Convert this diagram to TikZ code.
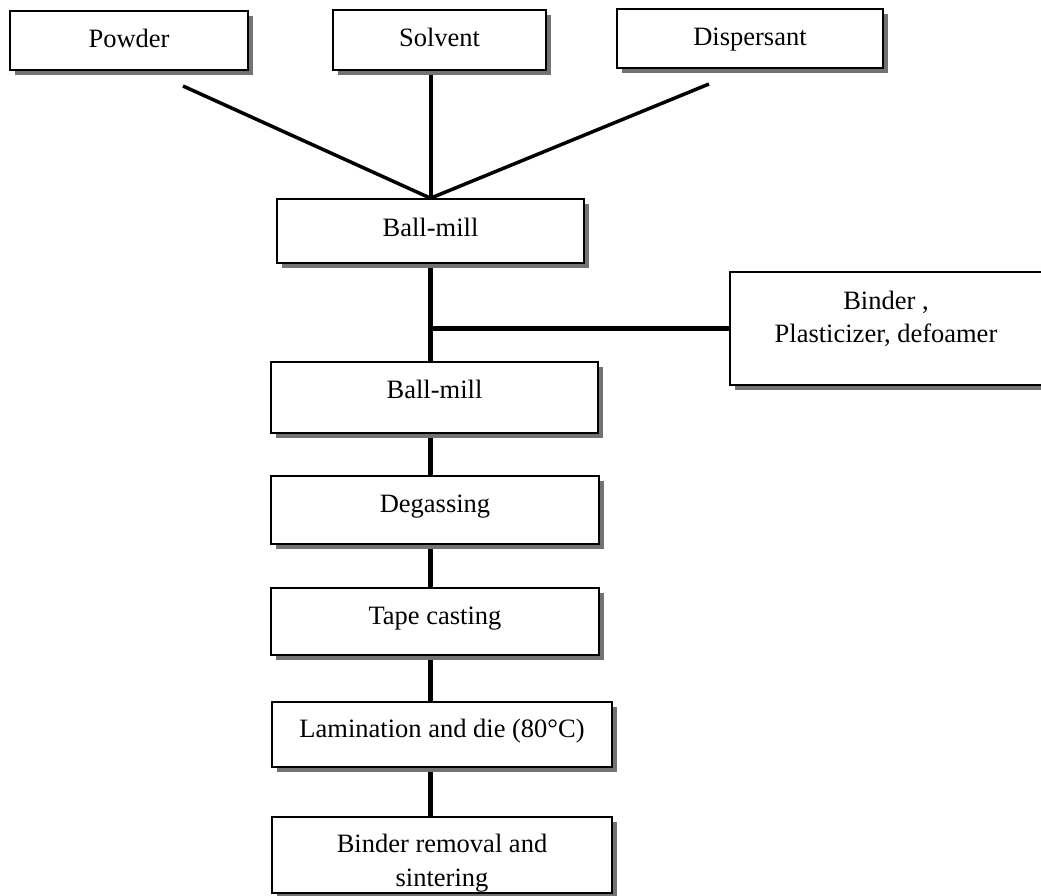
\documentclass[tikz,border=0pt]{standalone}
\usepackage{fontspec}
\setmainfont{Liberation Serif}
\usetikzlibrary{shadows}
\pgfdeclarelayer{background}
\pgfsetlayers{background,main}
\tikzset{
  box/.style={draw, line width=1.6pt, fill=white, inner sep=0pt,
    font=\fontsize{26.5}{33}\selectfont,
    general shadow={fill=black!55, shadow xshift=5pt, shadow yshift=-5pt}},
  feed/.style={line width=3.5pt},
  flow/.style={line width=4.5pt},
}
\newcommand{\boxtxt}[2]{\raisebox{#1pt}[0pt][0pt]{#2}}
\begin{document}
\begin{tikzpicture}[x=1pt,y=-1pt]
\useasboundingbox (0,0) rectangle (1041,895);
\clip (0,0) rectangle (1041,895);
\node[box, minimum width=238pt, minimum height=59pt] (powder) at (129,40.5) {\boxtxt{-6.5}{Powder}};
\node[box, minimum width=213pt, minimum height=60pt] (solvent) at (439.5,40) {\boxtxt{-6}{Solvent}};
\node[box, minimum width=266pt, minimum height=59pt] (dispersant) at (750,38.5) {\boxtxt{-6.5}{Dispersant}};
\node[box, minimum width=307pt, minimum height=64pt] (mill1) at (430.5,231) {\boxtxt{-5}{Ball-mill}};
\node[box, minimum width=312pt, minimum height=113pt] (binder) at (886,328.5)
  {\boxtxt{19.5}{\begin{tabular}[t]{@{}c@{}}Binder ,\\Plasticizer, defoamer\end{tabular}}};
\node[box, minimum width=327pt, minimum height=71pt] (mill2) at (434.5,397.5) {\boxtxt{-1}{Ball-mill}};
\node[box, minimum width=328pt, minimum height=68pt] (degas) at (435,510) {\boxtxt{-2}{Degassing}};
\node[box, minimum width=328pt, minimum height=67pt] (tape) at (435,621.5) {\boxtxt{-2.5}{Tape casting}};
\node[box, minimum width=340pt, minimum height=65pt] (lam) at (442,734.5) {\boxtxt{-2.5}{Lamination and die (80°C)}};
\node[box, minimum width=340pt, minimum height=76pt] (removal) at (442,855)
  {\boxtxt{3}{\begin{tabular}[t]{@{}c@{}}Binder removal and\\[1pt]sintering\end{tabular}}};
\coordinate (pfree) at (183,86);
\coordinate (dfree) at (709,84);
\begin{pgfonlayer}{background}
\draw[feed] (pfree) -- (mill1.north);
\draw[flow, line width=4pt] (solvent.south -| mill1.north) -- (mill1.north);
\draw[feed] (dfree) -- (mill1.north);
\draw[flow] (mill1.south) -- (mill1.south |- mill2.north);
\draw[flow] (mill1.south |- binder.west) -- (binder.west);
\draw[flow] (mill1.south |- mill2.south) -- (mill1.south |- degas.north);
\draw[flow] (mill1.south |- degas.south) -- (mill1.south |- tape.north);
\draw[flow] (mill1.south |- tape.south) -- (mill1.south |- lam.north);
\draw[flow] (mill1.south |- lam.south) -- (mill1.south |- removal.north);
\end{pgfonlayer}
\end{tikzpicture}
\end{document}
